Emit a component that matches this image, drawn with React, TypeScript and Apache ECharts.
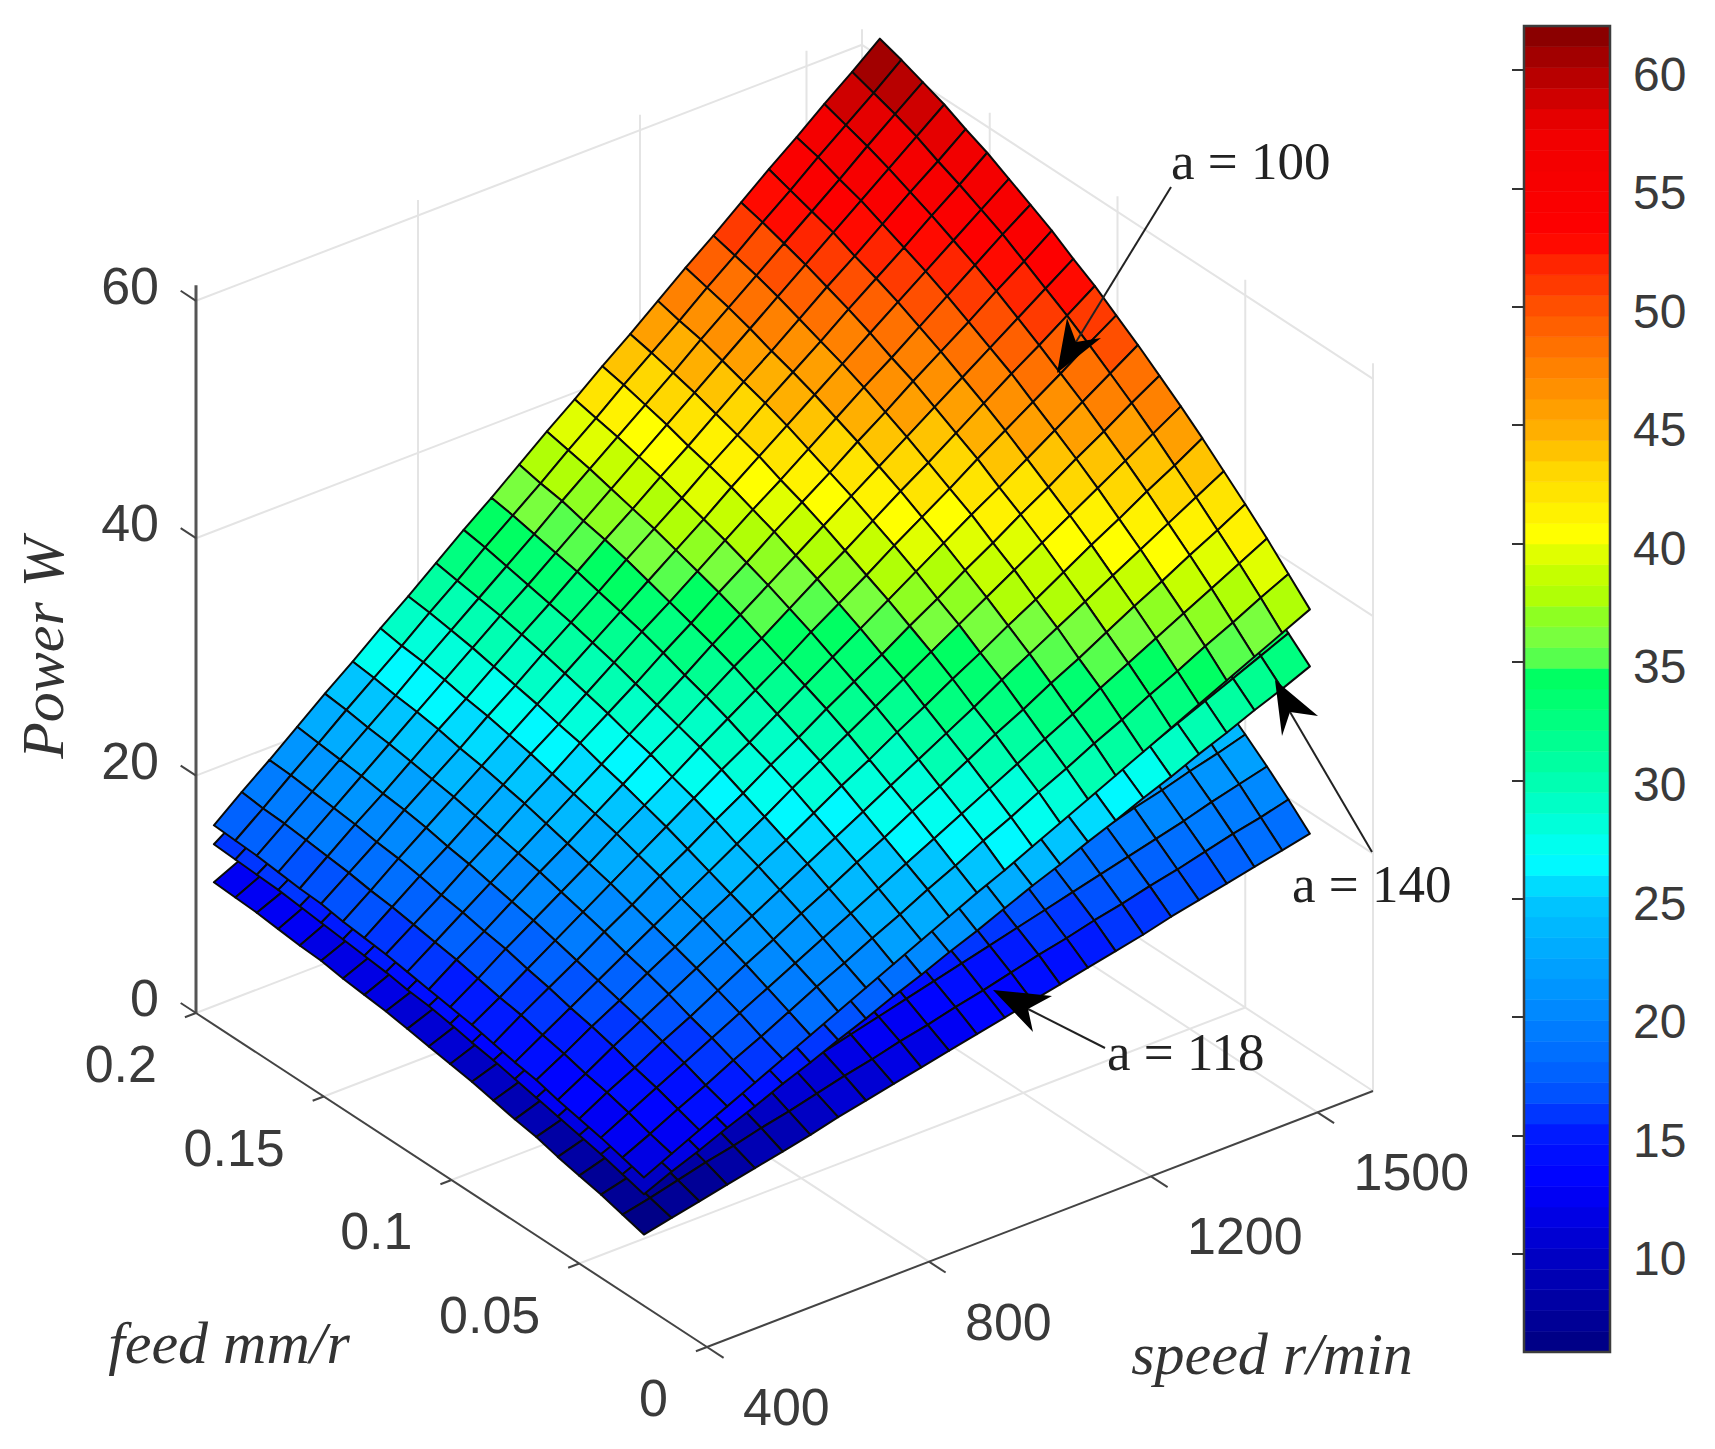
import React, { useEffect, useRef } from "react";
import * as echarts from "echarts";

const speeds = [400,450,500,550,600,650,700,750,800,850,900,950,1000,1050,1100,1150,1200,1250,1300,1350,1400,1450,1500,1550,1600];
const feeds = [0.0247,0.0331,0.0415,0.05,0.0584,0.0668,0.0752,0.0836,0.092,0.1005,0.1089,0.1173,0.1257,0.1341,0.1425,0.151,0.1594,0.1678,0.1762,0.1846,0.193];

const power118 = [
[6.0,6.5,7.0,7.5,8.0,8.5,9.0,9.6,10.1,10.6,11.1,11.6,12.1,12.6,13.1,13.6,14.1,14.6,15.1,15.7,16.2,16.7,17.2,17.7,18.2],
[6.5,7.0,7.6,8.2,8.7,9.3,9.8,10.4,11.0,11.5,12.1,12.6,13.2,13.7,14.3,14.9,15.4,16.0,16.5,17.1,17.6,18.2,18.8,19.3,19.9],
[7.0,7.6,8.2,8.8,9.4,10.0,10.6,11.2,11.8,12.4,13.0,13.6,14.2,14.8,15.4,16.0,16.6,17.2,17.8,18.4,19.0,19.6,20.3,20.9,21.5],
[7.4,8.1,8.7,9.4,10.0,10.7,11.3,12.0,12.6,13.3,13.9,14.6,15.2,15.8,16.5,17.1,17.8,18.4,19.1,19.7,20.4,21.0,21.7,22.3,23.0],
[7.8,8.5,9.2,9.9,10.6,11.3,12.0,12.7,13.4,14.1,14.8,15.5,16.1,16.8,17.5,18.2,18.9,19.6,20.3,21.0,21.7,22.4,23.1,23.8,24.4],
[8.3,9.0,9.7,10.5,11.2,11.9,12.6,13.4,14.1,14.8,15.6,16.3,17.0,17.8,18.5,19.2,20.0,20.7,21.4,22.2,22.9,23.6,24.4,25.1,25.8],
[8.6,9.4,10.2,10.9,11.7,12.5,13.3,14.0,14.8,15.6,16.3,17.1,17.9,18.7,19.4,20.2,21.0,21.7,22.5,23.3,24.1,24.8,25.6,26.4,27.1],
[9.0,9.8,10.6,11.4,12.2,13.1,13.9,14.7,15.5,16.3,17.1,17.9,18.7,19.5,20.3,21.1,21.9,22.7,23.5,24.4,25.2,26.0,26.8,27.6,28.4],
[9.4,10.2,11.0,11.9,12.7,13.6,14.4,15.3,16.1,17.0,17.8,18.6,19.5,20.3,21.2,22.0,22.8,23.7,24.5,25.4,26.2,27.0,27.9,28.7,29.6],
[9.7,10.6,11.4,12.3,13.2,14.1,14.9,15.8,16.7,17.6,18.4,19.3,20.2,21.1,21.9,22.8,23.7,24.5,25.4,26.3,27.2,28.0,28.9,29.8,30.7],
[10.0,10.9,11.8,12.7,13.6,14.5,15.4,16.3,17.2,18.1,19.0,19.9,20.9,21.8,22.7,23.6,24.5,25.4,26.3,27.2,28.1,29.0,29.9,30.8,31.7],
[10.3,11.2,12.2,13.1,14.0,15.0,15.9,16.8,17.8,18.7,19.6,20.5,21.5,22.4,23.3,24.3,25.2,26.1,27.1,28.0,28.9,29.9,30.8,31.7,32.7],
[10.6,11.5,12.5,13.4,14.4,15.4,16.3,17.3,18.2,19.2,20.1,21.1,22.1,23.0,24.0,25.0,25.9,26.9,27.8,28.8,29.7,30.7,31.6,32.6,33.6],
[10.8,11.8,12.8,13.8,14.7,15.7,16.7,17.7,18.7,19.7,20.6,21.6,22.6,23.6,24.6,25.5,26.5,27.5,28.5,29.5,30.5,31.4,32.4,33.4,34.4],
[11.0,12.0,13.0,14.1,15.1,16.1,17.1,18.1,19.1,20.1,21.1,22.1,23.1,24.1,25.1,26.1,27.1,28.1,29.1,30.1,31.1,32.1,33.1,34.1,35.1],
[11.3,12.3,13.3,14.3,15.4,16.4,17.4,18.4,19.4,20.5,21.5,22.5,23.5,24.6,25.6,26.6,27.6,28.7,29.7,30.7,31.7,32.8,33.8,34.8,35.8],
[11.4,12.5,13.5,14.6,15.6,16.6,17.7,18.7,19.8,20.8,21.9,22.9,23.9,25.0,26.0,27.1,28.1,29.2,30.2,31.2,32.3,33.3,34.4,35.4,36.4],
[11.6,12.7,13.7,14.8,15.8,16.9,17.9,19.0,20.1,21.1,22.2,23.2,24.3,25.4,26.4,27.5,28.5,29.6,30.6,31.7,32.8,33.8,34.9,35.9,37.0],
[11.8,12.8,13.9,15.0,16.0,17.1,18.2,19.3,20.3,21.4,22.5,23.5,24.6,25.7,26.8,27.8,28.9,30.0,31.0,32.1,33.2,34.2,35.3,36.4,37.5],
[11.9,13.0,14.1,15.1,16.2,17.3,18.4,19.5,20.6,21.6,22.7,23.8,24.9,26.0,27.0,28.1,29.2,30.3,31.4,32.5,33.5,34.6,35.7,36.8,37.9],
[12.0,13.1,14.2,15.3,16.4,17.5,18.6,19.6,20.7,21.8,22.9,24.0,25.1,26.2,27.3,28.4,29.5,30.6,31.7,32.7,33.8,34.9,36.0,37.1,38.2],
];

const power140 = [
[9.4,10.4,11.3,12.3,13.2,14.2,15.1,16.1,17.0,18.0,18.9,19.9,20.8,21.8,22.8,23.7,24.7,25.6,26.6,27.5,28.5,29.4,30.4,31.3,32.3],
[9.9,10.9,11.9,12.9,13.9,14.9,15.9,16.9,17.9,18.9,19.9,20.9,21.9,22.9,23.9,24.9,25.9,26.9,27.9,28.9,29.9,30.9,31.9,32.9,33.9],
[10.4,11.4,12.4,13.5,14.5,15.6,16.6,17.7,18.7,19.7,20.8,21.8,22.9,23.9,25.0,26.0,27.0,28.1,29.1,30.2,31.2,32.3,33.3,34.4,35.4],
[10.8,11.9,13.0,14.1,15.2,16.2,17.3,18.4,19.5,20.6,21.7,22.7,23.8,24.9,26.0,27.1,28.2,29.3,30.3,31.4,32.5,33.6,34.7,35.8,36.9],
[11.2,12.4,13.5,14.6,15.7,16.9,18.0,19.1,20.2,21.4,22.5,23.6,24.7,25.9,27.0,28.1,29.2,30.4,31.5,32.6,33.7,34.9,36.0,37.1,38.3],
[11.6,12.8,14.0,15.1,16.3,17.5,18.6,19.8,21.0,22.1,23.3,24.5,25.6,26.8,28.0,29.1,30.3,31.5,32.6,33.8,35.0,36.1,37.3,38.4,39.6],
[12.0,13.2,14.4,15.6,16.8,18.0,19.2,20.4,21.6,22.8,24.0,25.3,26.5,27.7,28.9,30.1,31.3,32.5,33.7,34.9,36.1,37.3,38.5,39.7,40.9],
[12.4,13.6,14.9,16.1,17.4,18.6,19.8,21.1,22.3,23.5,24.8,26.0,27.3,28.5,29.7,31.0,32.2,33.5,34.7,35.9,37.2,38.4,39.6,40.9,42.1],
[12.7,14.0,15.3,16.6,17.8,19.1,20.4,21.7,22.9,24.2,25.5,26.7,28.0,29.3,30.6,31.8,33.1,34.4,35.7,36.9,38.2,39.5,40.8,42.0,43.3],
[13.1,14.4,15.7,17.0,18.3,19.6,20.9,22.2,23.5,24.8,26.1,27.4,28.7,30.1,31.4,32.7,34.0,35.3,36.6,37.9,39.2,40.5,41.8,43.1,44.4],
[13.4,14.7,16.0,17.4,18.7,20.1,21.4,22.7,24.1,25.4,26.8,28.1,29.4,30.8,32.1,33.4,34.8,36.1,37.5,38.8,40.1,41.5,42.8,44.2,45.5],
[13.6,15.0,16.4,17.7,19.1,20.5,21.9,23.2,24.6,26.0,27.3,28.7,30.1,31.4,32.8,34.2,35.5,36.9,38.3,39.7,41.0,42.4,43.8,45.1,46.5],
[13.9,15.3,16.7,18.1,19.5,20.9,22.3,23.7,25.1,26.5,27.9,29.3,30.7,32.1,33.5,34.9,36.3,37.7,39.1,40.5,41.9,43.3,44.7,46.1,47.5],
[14.1,15.5,17.0,18.4,19.8,21.3,22.7,24.1,25.5,27.0,28.4,29.8,31.2,32.7,34.1,35.5,37.0,38.4,39.8,41.2,42.7,44.1,45.5,46.9,48.4],
[14.3,15.8,17.2,18.7,20.2,21.6,23.1,24.5,26.0,27.4,28.9,30.3,31.8,33.2,34.7,36.1,37.6,39.0,40.5,42.0,43.4,44.9,46.3,47.8,49.2],
[14.5,16.0,17.5,19.0,20.5,21.9,23.4,24.9,26.4,27.8,29.3,30.8,32.3,33.8,35.2,36.7,38.2,39.7,41.1,42.6,44.1,45.6,47.0,48.5,50.0],
[14.7,16.2,17.7,19.2,20.7,22.2,23.7,25.2,26.7,28.2,29.7,31.2,32.7,34.2,35.7,37.2,38.7,40.2,41.7,43.2,44.7,46.2,47.7,49.2,50.7],
[14.9,16.4,17.9,19.4,21.0,22.5,24.0,25.5,27.1,28.6,30.1,31.6,33.1,34.7,36.2,37.7,39.2,40.8,42.3,43.8,45.3,46.8,48.4,49.9,51.4],
[15.0,16.5,18.1,19.6,21.2,22.7,24.3,25.8,27.3,28.9,30.4,32.0,33.5,35.1,36.6,38.1,39.7,41.2,42.8,44.3,45.9,47.4,48.9,50.5,52.0],
[15.1,16.7,18.2,19.8,21.4,22.9,24.5,26.0,27.6,29.2,30.7,32.3,33.9,35.4,37.0,38.5,40.1,41.7,43.2,44.8,46.4,47.9,49.5,51.0,52.6],
[15.2,16.8,18.4,19.9,21.5,23.1,24.7,26.3,27.8,29.4,31.0,32.6,34.2,35.7,37.3,38.9,40.5,42.0,43.6,45.2,46.8,48.4,49.9,51.5,53.1],
];

const power100 = [
[10.8,11.9,13.0,14.1,15.2,16.3,17.4,18.5,19.6,20.7,21.8,22.9,24.0,25.0,26.1,27.2,28.3,29.4,30.5,31.6,32.7,33.8,34.9,36.0,37.1],
[11.3,12.4,13.6,14.7,15.9,17.0,18.2,19.4,20.5,21.7,22.8,24.0,25.1,26.3,27.4,28.6,29.7,30.9,32.0,33.2,34.3,35.5,36.6,37.8,38.9],
[11.8,13.0,14.2,15.4,16.6,17.8,19.0,20.2,21.4,22.6,23.8,25.0,26.2,27.4,28.6,29.8,31.0,32.2,33.5,34.7,35.9,37.1,38.3,39.5,40.7],
[12.2,13.5,14.7,16.0,17.2,18.5,19.8,21.0,22.3,23.5,24.8,26.0,27.3,28.5,29.8,31.1,32.3,33.6,34.8,36.1,37.4,38.6,39.9,41.1,42.4],
[12.6,13.9,15.3,16.6,17.9,19.2,20.5,21.8,23.1,24.4,25.7,27.0,28.3,29.6,30.9,32.2,33.6,34.9,36.2,37.5,38.8,40.1,41.4,42.7,44.0],
[13.1,14.4,15.8,17.1,18.5,19.8,21.2,22.5,23.9,25.2,26.6,28.0,29.3,30.7,32.0,33.4,34.7,36.1,37.4,38.8,40.2,41.5,42.9,44.2,45.6],
[13.4,14.8,16.2,17.6,19.0,20.4,21.8,23.2,24.6,26.0,27.5,28.9,30.3,31.7,33.1,34.5,35.9,37.3,38.7,40.1,41.5,42.9,44.3,45.7,47.1],
[13.8,15.3,16.7,18.1,19.6,21.0,22.5,23.9,25.4,26.8,28.3,29.7,31.2,32.6,34.0,35.5,36.9,38.4,39.8,41.3,42.7,44.2,45.6,47.1,48.5],
[14.2,15.6,17.1,18.6,20.1,21.6,23.1,24.6,26.1,27.6,29.0,30.5,32.0,33.5,35.0,36.5,38.0,39.5,41.0,42.4,43.9,45.4,46.9,48.4,49.9],
[14.5,16.0,17.6,19.1,20.6,22.1,23.7,25.2,26.7,28.3,29.8,31.3,32.8,34.4,35.9,37.4,39.0,40.5,42.0,43.6,45.1,46.6,48.1,49.7,51.2],
[14.8,16.4,17.9,19.5,21.1,22.6,24.2,25.8,27.4,28.9,30.5,32.1,33.6,35.2,36.8,38.3,39.9,41.5,43.0,44.6,46.2,47.8,49.3,50.9,52.5],
[15.1,16.7,18.3,19.9,21.5,23.1,24.7,26.3,27.9,29.5,31.1,32.8,34.4,36.0,37.6,39.2,40.8,42.4,44.0,45.6,47.2,48.8,50.4,52.0,53.6],
[15.4,17.0,18.6,20.3,21.9,23.6,25.2,26.9,28.5,30.1,31.8,33.4,35.1,36.7,38.4,40.0,41.6,43.3,44.9,46.6,48.2,49.8,51.5,53.1,54.8],
[15.6,17.3,19.0,20.6,22.3,24.0,25.7,27.3,29.0,30.7,32.4,34.0,35.7,37.4,39.1,40.7,42.4,44.1,45.8,47.4,49.1,50.8,52.5,54.2,55.8],
[15.8,17.5,19.3,21.0,22.7,24.4,26.1,27.8,29.5,31.2,32.9,34.6,36.3,38.0,39.8,41.5,43.2,44.9,46.6,48.3,50.0,51.7,53.4,55.1,56.8],
[16.1,17.8,19.5,21.3,23.0,24.7,26.5,28.2,30.0,31.7,33.4,35.2,36.9,38.6,40.4,42.1,43.9,45.6,47.3,49.1,50.8,52.5,54.3,56.0,57.8],
[16.2,18.0,19.8,21.5,23.3,25.1,26.8,28.6,30.4,32.1,33.9,35.7,37.4,39.2,40.9,42.7,44.5,46.2,48.0,49.8,51.5,53.3,55.1,56.8,58.6],
[16.4,18.2,20.0,21.8,23.6,25.4,27.2,29.0,30.8,32.5,34.3,36.1,37.9,39.7,41.5,43.3,45.1,46.9,48.7,50.5,52.3,54.1,55.9,57.7,59.5],
[16.6,18.4,20.2,22.0,23.8,25.6,27.5,29.3,31.1,32.9,34.7,36.6,38.4,40.2,42.0,43.8,45.7,47.5,49.3,51.1,52.9,54.7,56.6,58.4,60.2],
[16.7,18.5,20.4,22.2,24.1,25.9,27.7,29.6,31.4,33.3,35.1,36.9,38.8,40.6,42.5,44.3,46.1,48.0,49.8,51.7,53.5,55.4,57.2,59.0,60.9],
[16.8,18.7,20.5,22.4,24.3,26.1,28.0,29.8,31.7,33.6,35.4,37.3,39.2,41.0,42.9,44.7,46.6,48.5,50.3,52.2,54.1,55.9,57.8,59.6,61.5],
];

const powerTicks = [0, 20, 40, 60];
const feedTicks = [0, 0.05, 0.1, 0.15, 0.2];
const speedTicks = [400, 800, 1200, 1500];
const colorTicks = [10, 15, 20, 25, 30, 35, 40, 45, 50, 55, 60];
const speedMin = 400, speedMax = 1600, feedMin = 0, feedMax = 0.2, powerMax = 61.3;
const colorMin = 5.86, colorMax = 61.86, colorSteps = 64;
const colorStopValues = [5.86, 9, 13, 15, 17, 20, 25, 26.6, 30, 33, 34.5, 35, 36, 37, 38, 39, 40.4, 43, 45, 47.5, 50, 52, 53, 57.5, 60, 61.86];
const colorStopHex = ["#000080", "#0000b4", "#0000ff", "#0018ff", "#0058ff", "#0085ff", "#00c8ff", "#00ffff", "#00ffb0", "#00ff78", "#00ff60", "#50ff50", "#78ff40", "#90ff20", "#b8ff00", "#ccff00", "#ffff00", "#ffd800", "#ffaa00", "#ff8000", "#ff5000", "#ff2000", "#ff0000", "#f00000", "#b00000", "#800000"];

// orthographic view of the 3-D box, in page pixels
const project = (s: number, f: number, p: number): number[] => [
  707 + ((s - 400) / 1200) * 666 - (f / 0.2) * 511,
  1347 - ((s - 400) / 1200) * 256 - (f / 0.2) * 334 - p * 11.87,
];

const hexAt = (v: number) => {
  let k = 0;
  while (k < colorStopValues.length - 2 && v > colorStopValues[k + 1]) k++;
  const t = Math.max(0, Math.min(1, (v - colorStopValues[k]) / (colorStopValues[k + 1] - colorStopValues[k])));
  const a = colorStopHex[k], b = colorStopHex[k + 1];
  let out = "#";
  for (let i = 1; i < 7; i += 2) {
    const x = parseInt(a.slice(i, i + 2), 16), y = parseInt(b.slice(i, i + 2), 16);
    out += Math.round(x + (y - x) * t).toString(16).padStart(2, "0");
  }
  return out;
};
const bandColor = (i: number) => hexAt(colorMin + ((i + 0.5) * (colorMax - colorMin)) / colorSteps);
const jetColor = (v: number) => {
  const i = Math.max(0, Math.min(colorSteps - 1, Math.floor(((v - colorMin) / (colorMax - colorMin)) * colorSteps)));
  return bandColor(i);
};

const surfaceCells = (table: number[][]) => {
  const out: number[][] = [];
  for (let j = feeds.length - 2; j >= 0; j--)
    for (let c = speeds.length - 2; c >= 0; c--)
      out.push([speeds[c], speeds[c + 1], feeds[j], feeds[j + 1], table[j][c], table[j][c + 1], table[j + 1][c + 1], table[j + 1][c]]);
  return out;
};

const renderCell = (_: any, api: any) => {
  const s0 = api.value(0), s1 = api.value(1), f0 = api.value(2), f1 = api.value(3);
  const a = api.value(4), b = api.value(5), c = api.value(6), d = api.value(7);
  const pts = [project(s0, f0, a), project(s1, f0, b), project(s1, f1, c), project(s0, f1, d)].map((p) => api.coord(p));
  return { type: "polygon", silent: true, shape: { points: pts }, style: { fill: jetColor((a + b + c + d) / 4), stroke: "#0a0a0a", lineWidth: 2, lineJoin: "round" } };
};

type Seg = [number, number, number, number, number, number, number];
const GRID = 0, AXIS = 1, ZAXIS = 2;
const buildBox = (): Seg[] => {
  const out: Seg[] = [];
  for (const f of [0.05, 0.1, 0.15, 0.2]) out.push([speedMin, f, 0, speedMax, f, 0, GRID]);
  for (const s of [800, 1200, 1500, 1600]) out.push([s, 0, 0, s, feedMax, 0, GRID]);
  for (const s of [800, 1200, 1500, 1600]) out.push([s, feedMax, 0, s, feedMax, powerMax, GRID]);
  for (const f of [0, 0.05, 0.1, 0.15]) out.push([speedMax, f, 0, speedMax, f, powerMax, GRID]);
  for (const p of [20, 40, 60]) {
    out.push([speedMin, feedMax, p, speedMax, feedMax, p, GRID]);
    out.push([speedMax, feedMax, p, speedMax, 0, p, GRID]);
  }
  out.push([speedMin, feedMin, 0, speedMax, feedMin, 0, AXIS]);
  out.push([speedMin, feedMin, 0, speedMin, feedMax, 0, AXIS]);
  out.push([speedMin, feedMax, 0, speedMin, feedMax, powerMax, ZAXIS]);
  for (const p of powerTicks) out.push([speedMin, feedMax, p, speedMin, feedMax + 0.006, p, AXIS]);
  for (const f of feedTicks) out.push([speedMin, f, 0, speedMin - 20, f, 0, AXIS]);
  for (const s of [...speedTicks]) out.push([s, 0, 0, s, -0.0065, 0, AXIS]);
  return out;
};

const renderSeg = (_: any, api: any) => {
  const a = api.coord(project(api.value(0), api.value(1), api.value(2)));
  const b = api.coord(project(api.value(3), api.value(4), api.value(5)));
  const kind = api.value(6);
  const style = kind === GRID ? { stroke: "#e4e4e4", lineWidth: 2 } : kind === ZAXIS ? { stroke: "#555", lineWidth: 3 } : { stroke: "#444", lineWidth: 2 };
  return { type: "line", silent: true, shape: { x1: a[0], y1: a[1], x2: b[0], y2: b[1] }, style };
};

const tickLabelFont = '52px "Liberation Sans"';
const tickRows: any[][] = [
  ...powerTicks.map((p) => [speedMin, feedMax, p, String(p), -37, -15, "right"]),
  ...feedTicks.map((f) => [speedMin, f, 0, String(f), -39, 51, "right"]),
  ...speedTicks.map((s) => [s, 0, 0, String(s), 36, 60, "left"]),
];
const renderTickLabel = (_: any, api: any) => {
  const i = api.value(0);
  const r = tickRows[i];
  const p = api.coord(project(r[0], r[1], r[2]));
  return { type: "text", silent: true, style: { text: r[3], x: p[0] + r[4], y: p[1] + r[5], font: tickLabelFont, fill: "#3a3a3a", align: r[6], verticalAlign: "middle", textAlign: r[6], textVerticalAlign: "middle" } };
};

const bandData = Array.from({ length: colorSteps }, (_, i) => [
  colorMin + (i * (colorMax - colorMin)) / colorSteps,
  colorMin + ((i + 1) * (colorMax - colorMin)) / colorSteps,
  i,
]);
const renderBand = (_: any, api: any) => {
  const lo = api.coord([0, api.value(0)]);
  const hi = api.coord([1, api.value(1)]);
  const col = bandColor(api.value(2));
  return { type: "rect", silent: true, shape: { x: lo[0], y: hi[1], width: hi[0] - lo[0], height: lo[1] - hi[1] }, style: { fill: col, stroke: col, lineWidth: 0.6 } };
};
const renderBandFrame = (_: any, api: any) => {
  const lo = api.coord([0, colorMin]);
  const hi = api.coord([1, colorMax]);
  return { type: "rect", silent: true, shape: { x: lo[0], y: hi[1], width: hi[0] - lo[0], height: lo[1] - hi[1] }, style: { fill: "none", stroke: "#3c3c3c", lineWidth: 2.5 } };
};

const serif = '"Liberation Serif"';
const noteText = (text: string, x: number, y: number) => ({
  type: "text", z: 100, silent: true,
  style: { text, x, y, font: `53px ${serif}`, fill: "#222", align: "left", verticalAlign: "middle" },
});
const axisTitle = (text: string, x: number, y: number, extra: any = {}) => ({
  type: "text", z: 100, silent: true, ...extra,
  style: { text, x: extra.rotation ? 0 : x, y: extra.rotation ? 0 : y, font: `italic 60px ${serif}`, fill: "#333", align: "center", verticalAlign: "middle" },
});
const arrow = (from: number[], notch: number[], tip: number[], b1: number[], b2: number[]) => [
  { type: "line", z: 100, silent: true, shape: { x1: from[0], y1: from[1], x2: notch[0], y2: notch[1] }, style: { stroke: "#222", lineWidth: 2 } },
  { type: "polygon", z: 100, silent: true, shape: { points: [tip, b1, notch, b2] }, style: { fill: "#000" } },
];

export default function App() {
  const ref = useRef<HTMLDivElement>(null);
  useEffect(() => {
    document.body.style.margin = "0";
    const chart = echarts.init(ref.current!, null, { renderer: "svg" });
    const surfaceSeries = (name: string, table: number[][]) => ({
      name, type: "custom", xAxisIndex: 0, yAxisIndex: 0, clip: false, progressive: 0, animation: false, silent: true,
      data: surfaceCells(table), renderItem: renderCell,
    });
    chart.setOption({
      animation: false,
      backgroundColor: "#ffffff",
      grid: [
        { left: 0, top: 0, width: 1715, height: 1449, show: false },
        { left: 1524, top: 26, width: 86, height: 1326, show: false },
      ],
      xAxis: [
        { gridIndex: 0, type: "value", min: 0, max: 1715, show: false },
        { gridIndex: 1, type: "value", min: 0, max: 1, show: false },
      ],
      yAxis: [
        { gridIndex: 0, type: "value", min: 0, max: 1449, inverse: true, show: false },
        {
          gridIndex: 1, type: "value", min: colorMin, max: colorMax, position: "right", z: 10,
          axisLine: { show: false }, splitLine: { show: false },
          axisTick: { show: true, inside: true, length: 12, customValues: colorTicks, lineStyle: { color: "#333", width: 2 } },
          axisLabel: {
            show: true, customValues: colorTicks, margin: 23, color: "#3a3a3a", fontSize: 48, fontFamily: "Liberation Sans",
            formatter: (v: number) => `{a|${Math.round(v)}}`,
            rich: { a: { color: "#3a3a3a", fontSize: 48, fontFamily: "Liberation Sans", padding: [9, 0, 0, 0] } },
          },
        },
      ],
      series: [
        { type: "custom", xAxisIndex: 0, yAxisIndex: 0, clip: false, silent: true, progressive: 0, data: buildBox(), renderItem: renderSeg },
        surfaceSeries("a = 118", power118),
        surfaceSeries("a = 140", power140),
        surfaceSeries("a = 100", power100),
        { type: "custom", xAxisIndex: 0, yAxisIndex: 0, clip: false, silent: true, progressive: 0, data: tickRows.map((_, i) => [i]), renderItem: renderTickLabel },
        { type: "custom", xAxisIndex: 1, yAxisIndex: 1, clip: false, silent: true, progressive: 0, data: bandData, renderItem: renderBand },
        { type: "custom", xAxisIndex: 1, yAxisIndex: 1, clip: false, silent: true, data: [[0]], renderItem: renderBandFrame },
      ],
      graphic: [
        axisTitle("feed mm/r", 229, 1343),
        axisTitle("speed r/min", 1272, 1354),
        axisTitle("Power W", 43, 648, { x: 43, y: 648, rotation: Math.PI / 2 }),
        noteText("a = 100", 1171, 161),
        noteText("a = 140", 1292, 884),
        noteText("a = 118", 1107, 1052),
        ...arrow([1171, 187], [1076, 342], [1057, 373], [1067, 318], [1101, 338]),
        ...arrow([1372, 852], [1290, 712], [1275, 680], [1282, 736], [1318, 716]),
        ...arrow([1105, 1048], [1028, 1009], [993, 990], [1033, 1032], [1052, 996]),
      ],
    });
    return () => chart.dispose();
  }, []);
  return <div ref={ref} style={{ width: 1715, height: 1449 }} />;
}
